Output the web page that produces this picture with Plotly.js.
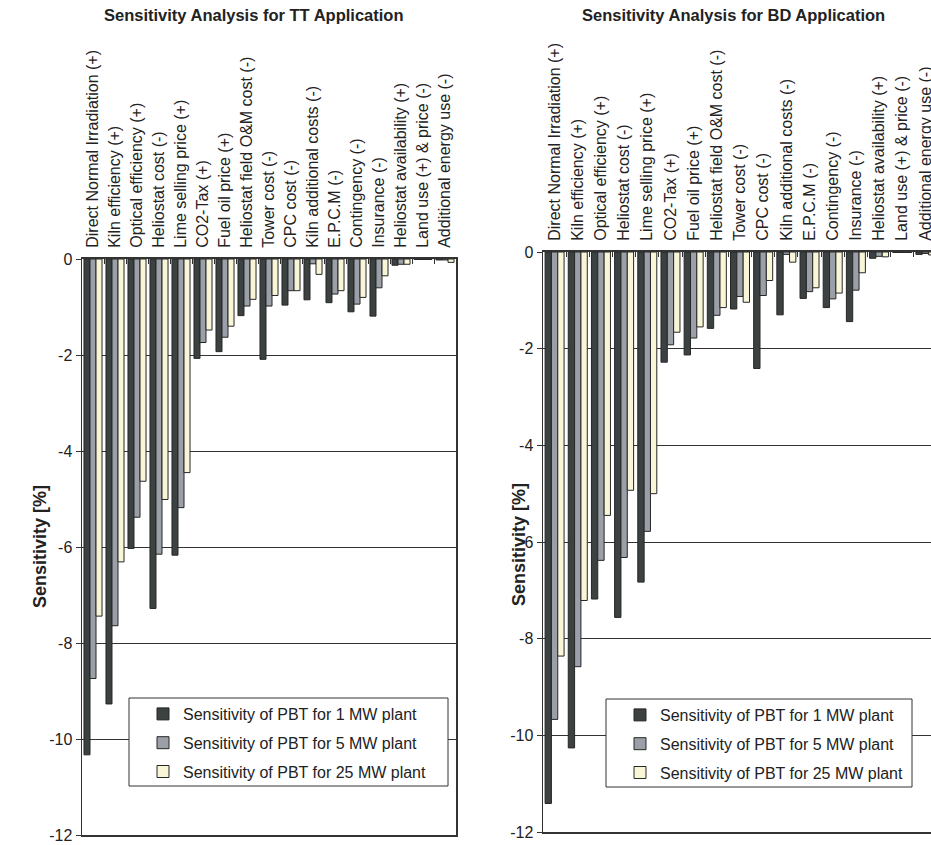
<!DOCTYPE html>
<html>
<head>
<meta charset="utf-8">
<script src="https://cdn.plot.ly/plotly-3.0.1.min.js"></script>
<style>
html, body { margin: 0; padding: 0; overflow: hidden; background: #fff; }
#chart { width: 945px; height: 845px; }
</style>
</head>
<body>
<div id="chart"></div>
<script>
// ---- Data ----
const categories = [
  "Direct Normal Irradiation (+)", "Kiln efficiency (+)", "Optical efficiency (+)",
  "Heliostat cost (-)", "Lime selling price (+)", "CO2-Tax (+)", "Fuel oil price (+)",
  "Heliostat field O&M cost (-)", "Tower cost (-)", "CPC cost (-)", "Kiln additional costs (-)",
  "E.P.C.M (-)", "Contingency (-)", "Insurance (-)", "Heliostat availability (+)",
  "Land use (+) & price (-)", "Additional energy use (-)"
];
const seriesNames = [
  "Sensitivity of PBT for 1 MW plant",
  "Sensitivity of PBT for 5 MW plant",
  "Sensitivity of PBT for 25 MW plant"
];
// TT application
const tt1MW  = [-10.33, -9.27, -6.03, -7.28, -6.17, -2.07, -1.93, -1.18, -2.09, -0.96, -0.85, -0.91, -1.10, -1.19, -0.13, -0.01, -0.02];
const tt5MW  = [-8.74, -7.64, -5.38, -6.15, -5.18, -1.74, -1.63, -0.98, -0.98, -0.66, -0.10, -0.73, -0.94, -0.60, -0.11, -0.01, -0.02];
const tt25MW = [-7.44, -6.31, -4.63, -5.01, -4.45, -1.48, -1.40, -0.84, -0.76, -0.66, -0.32, -0.66, -0.80, -0.35, -0.11, -0.01, -0.07];
// BD application
const bd1MW  = [-11.41, -10.26, -7.18, -7.56, -6.83, -2.28, -2.13, -1.58, -1.18, -2.41, -1.30, -0.96, -1.15, -1.44, -0.13, -0.01, -0.05];
const bd5MW  = [-9.67, -8.58, -6.38, -6.32, -5.78, -1.92, -1.78, -1.31, -0.92, -0.90, -0.05, -0.82, -0.97, -0.79, -0.09, -0.01, -0.03];
const bd25MW = [-8.36, -7.21, -5.45, -4.93, -5.00, -1.66, -1.55, -1.15, -1.04, -0.59, -0.21, -0.74, -0.85, -0.43, -0.10, -0.01, -0.06];
const yTicks = [0, -2, -4, -6, -8, -10, -12];
const yTickText = ["0", "-2", "-4", "-6", "-8", "-10", "-12"];

// ---- Styles ----
const colors = ["#3b4241", "#9ba0a8", "#f8f6d6"];
const FONT = "Arial, 'Liberation Sans', sans-serif";
const W = 945, H = 845;

function mk(y, i, xa, ya, leg) {
  return {
    type: "bar", x: categories, y: y, name: seriesNames[i],
    xaxis: xa, yaxis: ya, legend: leg, legendgroup: leg + "g" + i,
    marker: { color: colors[i], line: { color: "#262626", width: 1 } },
    hoverinfo: "x+y"
  };
}
const data = [
  mk(tt1MW, 0, "x", "y", "legend"), mk(tt5MW, 1, "x", "y", "legend"), mk(tt25MW, 2, "x", "y", "legend"),
  mk(bd1MW, 0, "x2", "y2", "legend2"), mk(bd5MW, 1, "x2", "y2", "legend2"), mk(bd25MW, 2, "x2", "y2", "legend2")
];

function px(x) { return x / W; }
function py(y) { return 1 - y / H; }

function xax(d0, d1, anchor) {
  return {
    domain: [px(d0), px(d1)], anchor: anchor, side: "top", type: "category",
    showline: true, linecolor: "#333", linewidth: 2, mirror: true,
    ticks: "inside", tickson: "boundaries", ticklen: 5, tickcolor: "#333", tickwidth: 1,
    tickangle: -90, ticklabelstandoff: 6,
    tickfont: { family: FONT, size: 16, color: "#222" },
    showgrid: false, zeroline: false, fixedrange: true
  };
}
function yax(t0, t1, anchor) {
  return {
    domain: [py(t1), py(t0)], anchor: anchor, range: [-12, 0],
    tickmode: "array", tickvals: yTicks, ticktext: yTickText,
    showline: true, linecolor: "#333", linewidth: 1.5, mirror: true,
    ticks: "outside", ticklen: 5, tickcolor: "#333",
    tickfont: { family: FONT, size: 16, color: "#222" },
    showgrid: true, gridcolor: "#333", gridwidth: 1, zeroline: false, fixedrange: true
  };
}

const legendBase = {
  bgcolor: "rgba(0,0,0,0)", borderwidth: 0, xanchor: "left", yanchor: "top",
  font: { family: FONT, size: 16, color: "#222" }, traceorder: "grouped", tracegroupgap: 5,
  itemclick: false, itemdoubleclick: false
};

const layout = {
  width: W, height: H, margin: { l: 0, r: 0, t: 0, b: 0 },
  paper_bgcolor: "#fff", plot_bgcolor: "#fff",
  barmode: "group", bargap: 0.18, bargroupgap: 0,
  font: { family: FONT, color: "#222" },
  xaxis: xax(82, 456, "y"), yaxis: yax(259, 835, "x"),
  xaxis2: xax(543, 937, "y2"), yaxis2: yax(252, 832, "x2"),
  legend: Object.assign({}, legendBase, { x: px(143), y: py(697) }),
  legend2: Object.assign({}, legendBase, { x: px(620), y: py(698) }),
  shapes: [
    { type: "rect", xref: "paper", yref: "paper", x0: px(129), x1: px(448), y0: py(698), y1: py(786),
      fillcolor: "#fff", line: { color: "#333", width: 1 }, layer: "above" },
    { type: "rect", xref: "paper", yref: "paper", x0: px(606), x1: px(912), y0: py(699), y1: py(787),
      fillcolor: "#fff", line: { color: "#333", width: 1 }, layer: "above" }
  ],
  annotations: [
    { text: "<b>Sensitivity Analysis for TT Application</b>", xref: "paper", yref: "paper",
      x: px(254), y: py(15), xanchor: "center", yanchor: "middle", showarrow: false,
      font: { family: FONT, size: 16.5, color: "#222" } },
    { text: "<b>Sensitivity Analysis for BD Application</b>", xref: "paper", yref: "paper",
      x: px(733), y: py(15), xanchor: "center", yanchor: "middle", showarrow: false,
      font: { family: FONT, size: 16.5, color: "#222" } },
    { text: "<b>Sensitivity [%]</b>", xref: "paper", yref: "paper", textangle: -90,
      x: px(40), y: py(547), xanchor: "center", yanchor: "middle", showarrow: false,
      font: { family: FONT, size: 18, color: "#222" } },
    { text: "<b>Sensitivity [%]</b>", xref: "paper", yref: "paper", textangle: -90,
      x: px(519), y: py(545), xanchor: "center", yanchor: "middle", showarrow: false,
      font: { family: FONT, size: 18, color: "#222" } }
  ]
};

Plotly.newPlot("chart", data, layout, { staticPlot: true, displayModeBar: false });
</script>
</body>
</html>
